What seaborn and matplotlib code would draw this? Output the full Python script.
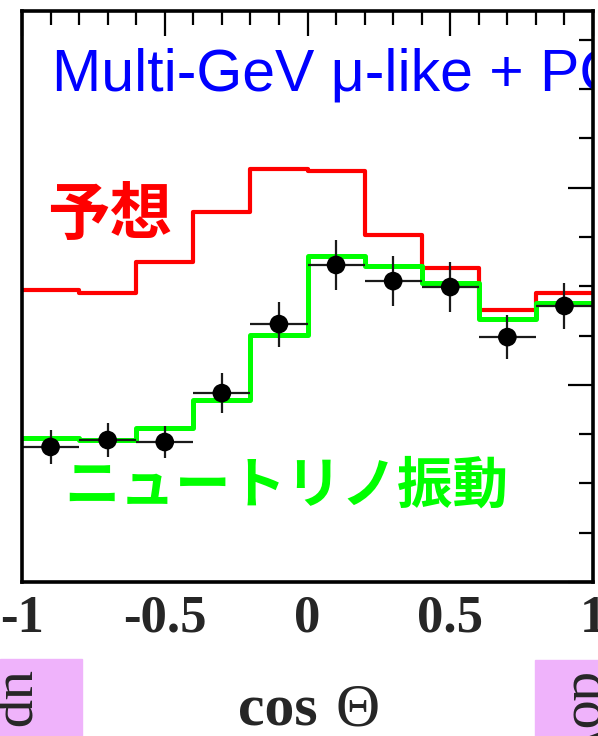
import numpy as np
import pandas as pd
import matplotlib
matplotlib.use("Agg")
import matplotlib.pyplot as plt
from matplotlib.patches import Rectangle
from matplotlib.ticker import MultipleLocator, NullFormatter
import seaborn as sns

# Zenith-angle distribution, 10 bins in cos(theta)
bin_edges = [-1.0, -0.8, -0.6, -0.4, -0.2, 0.0, 0.2, 0.4, 0.6, 0.8, 1.0]
bin_centers = [-0.9, -0.7, -0.5, -0.3, -0.1, 0.1, 0.3, 0.5, 0.7, 0.9]
expected_no_osc = [148.1, 146.6, 162.3, 187.6, 209.4, 208.4, 176.0, 159.2, 137.9, 146.6]
expected_osc = [73.0, 72.0, 78.1, 92.3, 125.3, 165.3, 160.2, 151.6, 133.4, 141.5]
observed = [68.5, 72.0, 71.0, 95.8, 130.8, 160.8, 152.6, 149.6, 124.2, 140.0]
observed_err = [8.4, 8.6, 7.9, 10.1, 11.4, 12.7, 12.5, 12.5, 11.0, 11.9]
xtick_values = [-1, -0.5, 0, 0.5, 1]
xtick_labels = ["-1", "-0.5", "0", "0.5", "1"]

sns.set_style("white")
plt.rcParams["font.family"] = ["Liberation Serif", "DejaVu Sans"]

W, H = 598, 736
fig = plt.figure(figsize=(W / 100, H / 100), dpi=100)
ax = fig.add_axes([22 / W, 1 - 582 / H, 571 / W, 571 / H])

hist_df = pd.DataFrame({
    "cos": bin_centers,
    "no_osc": expected_no_osc,
    "osc": expected_osc,
})

sns.histplot(data=hist_df, x="cos", weights="no_osc", bins=bin_edges,
             element="step", fill=False, color="#ff0000", linewidth=3.0, ax=ax)
sns.histplot(data=hist_df, x="cos", weights="osc", bins=bin_edges,
             element="step", fill=False, color="#00ff00", linewidth=3.6, ax=ax)

ax.errorbar(bin_centers, observed, xerr=0.1, yerr=observed_err, fmt="none",
            ecolor="#1a1a1a", elinewidth=1.6, capsize=0, zorder=3)
sns.scatterplot(x=bin_centers, y=observed, s=180, color="black",
                edgecolor="none", zorder=4, ax=ax)

ax.set_xlim(-1, 1)
ax.set_ylim(0, 289.6)
ax.set_xlabel("")
ax.set_ylabel("")
ax.set_xticks(xtick_values)
ax.set_xticklabels(xtick_labels, fontsize=38, fontweight="bold")
ax.xaxis.set_minor_locator(MultipleLocator(0.1))
ax.yaxis.set_major_locator(MultipleLocator(100))
ax.yaxis.set_minor_locator(MultipleLocator(25))
ax.yaxis.set_major_formatter(NullFormatter())
ax.tick_params(axis="both", which="both", direction="in", top=True, right=True,
               color="black", width=1.6)
ax.tick_params(axis="both", which="major", length=18)
ax.tick_params(axis="both", which="minor", length=10)
ax.tick_params(axis="x", which="major", pad=9)
for sp in ax.spines.values():
    sp.set_linewidth(2.6)
    sp.set_color("black")
    sp.set_zorder(5)

ax.text((52 - 22) / 571, (582 - 90) / 571, "Multi-GeV μ-like + PC",
        transform=ax.transAxes, fontsize=42.5, color="#0000ff",
        family=["Liberation Sans", "DejaVu Sans"], ha="left", va="baseline",
        clip_on=True)
ax.text((47 - 22) / 571, (582 - 216) / 571, "予想",
        transform=ax.transAxes, fontsize=45, color="#ff0000", fontweight="bold",
        family=["Noto Sans CJK JP", "DejaVu Sans"], ha="left", va="center")
ax.text((64 - 22) / 571, (582 - 487) / 571, "ニュートリノ振動",
        transform=ax.transAxes, fontsize=40, color="#00ff00", fontweight="bold",
        family=["Noto Sans CJK JP", "DejaVu Sans"], ha="left", va="center")

# axis title: bold "cos" with a regular-weight Theta
fig.text(318 / W, 1 - 725 / H, "cos", fontsize=43, fontweight="bold",
         ha="right", va="baseline")
fig.text(336 / W, 1 - 725 / H, "Θ", fontsize=44, fontweight="normal",
         ha="left", va="baseline")

# side tabs
pink = "#efb3fb"
fig.patches.append(Rectangle((0, 0), 82 / W, (H - 659) / H,
                             transform=fig.transFigure, color=pink, zorder=0))
fig.patches.append(Rectangle((535 / W, 0), (W - 535) / W, (H - 660) / H,
                             transform=fig.transFigure, color=pink, zorder=0))
fig.text(4 / W, 1 - 670 / H, "up", fontsize=42, rotation=-90,
         rotation_mode="anchor", ha="left", va="baseline")
fig.text(571 / W, 1 - 673 / H, "down", fontsize=42, rotation=-90,
         rotation_mode="anchor", ha="left", va="baseline")

fig.savefig("out.png", dpi=100)
